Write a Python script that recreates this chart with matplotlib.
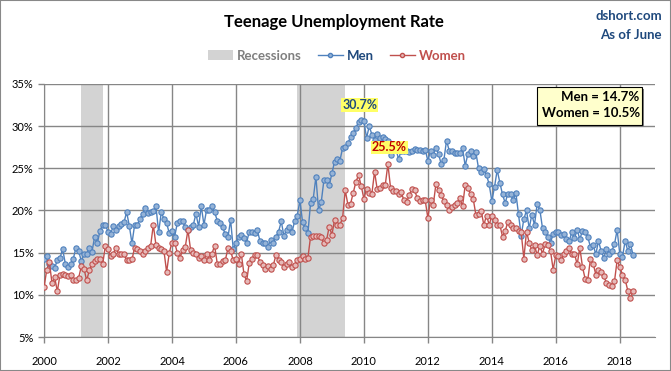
import numpy as np
import matplotlib
matplotlib.use("Agg")
import matplotlib.pyplot as plt
from matplotlib.patches import Patch, Rectangle
from matplotlib.lines import Line2D

plt.rcParams['font.family'] = ['Lato', 'DejaVu Sans']

# monthly teen unemployment rate (%), Jan 2000 - Jun 2018
men = [
    14.3, 14.6, 13.6, 13.4, 13.2, 14.1, 14.4, 15.4, 13.7, 13.3, 13.7, 14.3,   # 2000
    15.6, 15.2, 14.0, 14.8, 14.9, 15.5, 15.1, 16.9, 16.1, 17.6, 18.3, 18.3,   # 2001
    17.5, 17.2, 18.2, 17.7, 18.2, 18.4, 18.6, 19.8, 18.2, 16.1, 18.3, 18.3,   # 2002
    19.0, 19.6, 20.3, 19.7, 19.8, 19.9, 20.5, 17.4, 19.8, 19.0, 18.5, 17.3,   # 2003
    17.6, 16.9, 18.5, 18.8, 18.7, 18.0, 17.7, 18.0, 18.3, 19.6, 18.1, 20.5,   # 2004
    18.3, 20.1, 20.1, 20.5, 19.8, 18.8, 18.5, 18.0, 17.2, 16.8, 18.9, 15.4,   # 2005
    16.1, 16.9, 17.1, 16.7, 16.2, 17.5, 17.5, 17.3, 17.7, 16.4, 16.2, 16.1,   # 2006
    15.7, 16.5, 16.2, 16.9, 17.5, 18.7, 17.0, 17.7, 18.1, 17.4, 18.7, 19.4,   # 2007
    21.2, 18.6, 17.9, 17.3, 20.9, 21.4, 24.0, 20.0, 21.0, 23.6, 23.6, 23.0,   # 2008
    24.4, 25.8, 26.1, 25.9, 27.4, 27.5, 28.0, 28.7, 29.2, 29.8, 30.5, 30.7,   # 2009
    30.6, 28.6, 30.0, 29.0, 28.4, 29.1, 28.6, 28.7, 28.5, 28.2, 26.6, 27.5,   # 2010
    27.3, 26.1, 27.1, 27.0, 27.1, 26.9, 27.0, 27.3, 27.2, 27.2, 27.1, 27.2,   # 2011
    25.9, 27.1, 26.6, 27.4, 26.7, 25.5, 26.0, 28.3, 27.1, 27.1, 26.8, 26.8,   # 2012
    26.8, 27.4, 25.3, 26.7, 27.0, 26.5, 26.9, 25.0, 24.6, 24.9, 24.2, 23.1,   # 2013
    21.1, 22.8, 24.8, 23.3, 21.9, 20.9, 22.0, 22.0, 21.2, 22.1, 19.6, 17.0,   # 2014
    19.0, 20.0, 17.9, 19.5, 18.3, 20.8, 20.1, 17.9, 17.5, 16.9, 16.2, 17.2,   # 2015
    17.4, 17.4, 17.1, 17.2, 16.6, 16.4, 17.4, 16.7, 17.7, 16.6, 17.6, 17.4,   # 2016
    16.8, 15.7, 15.9, 14.8, 16.4, 15.2, 14.4, 15.4, 14.9, 15.2, 16.0, 17.7,   # 2017
    14.8, 14.5, 16.4, 15.2, 16.0, 14.7,                                       # 2018
]
women = [
    10.9, 12.9, 13.9, 11.4, 12.1, 10.4, 12.4, 12.5, 12.3, 12.2, 12.3, 11.8,   # 2000
    11.8, 12.0, 13.4, 13.1, 11.7, 12.9, 13.6, 14.0, 14.2, 14.2, 13.6, 15.8,   # 2001
    15.4, 14.6, 14.9, 15.6, 14.8, 14.8, 14.8, 14.1, 14.1, 14.2, 15.6, 15.4,   # 2002
    15.2, 14.9, 15.2, 15.6, 15.8, 18.3, 15.9, 15.6, 15.4, 15.2, 12.7, 15.0,   # 2003
    16.2, 16.2, 15.0, 14.4, 15.3, 15.7, 17.7, 15.3, 15.0, 14.9, 14.4, 14.6,   # 2004
    14.1, 14.9, 14.1, 14.9, 15.8, 13.7, 13.7, 14.0, 14.1, 15.5, 15.2, 14.1,   # 2005
    14.2, 13.7, 14.9, 12.5, 11.6, 13.8, 14.2, 14.7, 14.7, 13.9, 13.5, 13.1,   # 2006
    13.4, 13.1, 13.5, 14.7, 14.1, 13.9, 13.3, 13.7, 13.9, 13.3, 13.5, 14.1,   # 2007
    14.3, 14.6, 14.3, 14.4, 16.9, 17.0, 17.0, 17.0, 16.8, 16.1, 16.5, 18.1,   # 2008
    17.1, 18.9, 18.3, 18.3, 19.1, 22.4, 20.7, 20.8, 22.1, 23.4, 24.2, 22.9,   # 2009
    21.4, 22.6, 22.1, 22.0, 24.6, 22.5, 22.7, 23.0, 23.0, 25.5, 22.7, 22.3,   # 2010
    22.3, 22.0, 22.2, 21.2, 21.0, 21.8, 22.5, 22.4, 21.5, 21.1, 21.2, 21.2,   # 2011
    19.1, 21.3, 20.6, 23.1, 22.4, 21.8, 21.1, 20.6, 20.1, 20.4, 20.6, 20.9,   # 2012
    21.5, 20.5, 23.0, 22.7, 21.9, 21.4, 19.5, 19.6, 19.9, 18.3, 19.4, 18.3,   # 2013
    19.4, 18.9, 18.3, 18.3, 16.9, 17.6, 18.6, 18.3, 17.9, 17.9, 17.6, 17.4,   # 2014
    14.3, 17.5, 16.2, 15.3, 15.9, 14.7, 15.8, 14.9, 16.0, 15.9, 15.2, 13.0,   # 2015
    14.7, 14.6, 14.1, 14.8, 15.2, 15.6, 14.8, 14.9, 13.6, 15.6, 13.3, 11.9,   # 2016
    11.8, 14.3, 13.7, 12.4, 12.9, 12.7, 12.2, 11.4, 11.2, 11.1, 11.6, 14.1,   # 2017
    13.3, 12.4, 11.8, 10.5, 9.6, 10.5,                                        # 2018
]
recessions = [(2001 + 2/12, 2001 + 10/12), (2007 + 11/12, 2009 + 5/12)]
year_ticks = list(range(2000, 2019, 2))
pct_ticks = [5, 10, 15, 20, 25, 30, 35]

men = np.array(men) / 100
women = np.array(women) / 100
t = 2000 + np.arange(len(men)) / 12

blue = '#4F81BD'
red = '#C0504D'
grid = '#868686'

fig = plt.figure(figsize=(6.71, 3.71), dpi=100)
ax = fig.add_axes([44/671, 1 - 337/371, (655 - 44)/671, (337 - 84)/371])

for a, b in recessions:
    ax.axvspan(a, b, color='#D3D3D3', lw=0, zorder=0)

ax.plot(t, men, color=blue, lw=1, marker='o', ms=3.8, mfc='#95B3D7', mec=blue, mew=0.8, zorder=3)
ax.plot(t, women, color=red, lw=1, marker='o', ms=3.8, mfc='#E6B9B8', mec=red, mew=0.8, zorder=3)

ax.set_xlim(2000, 2019.1)
ax.set_ylim(0.05, 0.35)
ax.set_xticks(year_ticks)
ax.set_xticklabels([str(y) for y in year_ticks])
ax.set_yticks([p / 100 for p in pct_ticks])
ax.set_yticklabels([f'{p}%' for p in pct_ticks])
ax.grid(True, color=grid, lw=1, zorder=1)
ax.set_axisbelow(True)
for s in ['top', 'right']:
    ax.spines[s].set_visible(False)
for s in ['left', 'bottom']:
    ax.spines[s].set_color(grid)
ax.tick_params(colors=grid, labelcolor='black', labelsize=8, length=4, width=1, direction='out')
ax.tick_params(axis='x', pad=10)

# peak callouts
im = int(np.argmax(men))
ax.annotate(f'{men[im]*100:.1f}%', (t[im], men[im]), xytext=(-1, 11), textcoords='offset points',
            ha='center', va='center', fontsize=9, fontweight='bold', color='#1F497D',
            bbox=dict(facecolor='#FFFF66', edgecolor='none', pad=0.6), zorder=5)
iw = int(np.argmax(women))
ax.annotate(f'{women[iw]*100:.1f}%', (t[iw], women[iw]), xytext=(1, 12), textcoords='offset points',
            ha='center', va='center', fontsize=9, fontweight='bold', color='#C00000',
            bbox=dict(facecolor='#FFFF66', edgecolor='none', pad=0.6), zorder=5)

# latest values box with a small drop shadow
ax.add_patch(Rectangle((0.810, 0.830), 0.172, 0.150, transform=ax.transAxes,
                       facecolor='#7F7F7F', edgecolor='none', zorder=5, clip_on=False))
ax.add_patch(Rectangle((0.807, 0.838), 0.172, 0.150, transform=ax.transAxes,
                       facecolor='#FFFFCC', edgecolor='black', lw=0.8, zorder=6, clip_on=False))
ax.text(0.975, 0.950, f'Men = {men[-1]*100:.1f}%', transform=ax.transAxes,
        ha='right', va='center', fontsize=9.5, fontweight='bold', zorder=7)
ax.text(0.975, 0.884, f'Women = {women[-1]*100:.1f}%', transform=ax.transAxes,
        ha='right', va='center', fontsize=9.5, fontweight='bold', zorder=7)

fig.text(334/671, 1 - 22/371, 'Teenage Unemployment Rate', ha='center', va='center',
         fontsize=12, fontweight='bold')
fig.text(662/671, 1 - 16/371, 'dshort.com', ha='right', va='center', fontsize=9.5,
         fontweight='bold', color='#1F497D')
fig.text(662/671, 1 - 35/371, 'As of June', ha='right', va='center', fontsize=9.5,
         fontweight='bold', color='#1F497D')

handles = [Patch(facecolor='#D3D3D3', edgecolor='none'),
           Line2D([], [], color=blue, lw=1, marker='o', ms=3, mfc='#95B3D7', mec=blue),
           Line2D([], [], color=red, lw=1, marker='o', ms=3, mfc='#E6B9B8', mec=red)]
leg = fig.legend(handles, ['Recessions', 'Men', 'Women'], loc='center', ncol=3,
                 bbox_to_anchor=(337/671, 1 - 56/371), frameon=False,
                 handlelength=1.9, handleheight=0.8, handletextpad=0.3, columnspacing=1.2,
                 prop={'weight': 'bold', 'size': 9.5})
for txt, c in zip(leg.get_texts(), ['#7F7F7F', '#1F497D', red]):
    txt.set_color(c)

fig.patches.append(Rectangle((0, 0), 1, 1, transform=fig.transFigure, fill=False,
                             edgecolor='#888888', lw=1.5))

fig.savefig('out.png', dpi=100)
